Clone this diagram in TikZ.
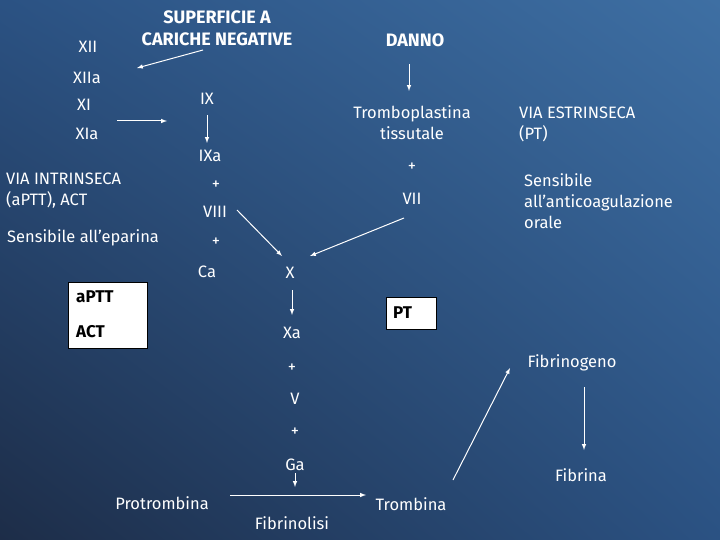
\documentclass[tikz,border=0pt]{standalone}
\usepackage{fontspec}
\setmainfont{Fira Sans}
\usetikzlibrary{shadings}
\definecolor{bgA}{HTML}{3E6FA3}
\definecolor{bgB}{HTML}{1D2D48}
\definecolor{bgC}{HTML}{2B5283}
\begin{document}
\begin{tikzpicture}[x=1pt,y=-1pt,
  lbl/.style={text=white,font=\fontsize{16.5}{21}\selectfont,inner sep=1pt},
  hdr/.style={lbl,font=\fontsize{18}{22}\selectfont\bfseries},
  lft/.style={lbl,anchor=west,align=left},
  arr/.style={draw=white,line width=1pt,-latex},
  wbox/.style={draw=black,fill=white,text=black,anchor=west,font=\fontsize{17}{20}\selectfont\bfseries}]
\shade[upper right=bgA,lower left=bgB,upper left=bgC,lower right=bgC] (0,0) rectangle (720,540);
\useasboundingbox (0,0) rectangle (720,540);
\node[hdr,align=center] (sup) at (217,28) {SUPERFICIE A\\CARICHE NEGATIVE};
\node[hdr] (danno) at (415,40) {DANNO};
\node[lbl] (xii) at (88,47) {XII};
\node[lbl] (xiia) at (87,78) {XIIa};
\node[lbl] (xi) at (84,105) {XI};
\node[lbl] (xia) at (87,134) {XIa};
\node[lbl] (ix) at (207,99) {IX};
\node[lbl] (ixa) at (210,156) {IXa};
\node[lbl] (p1) at (216,185) {+};
\node[lbl] (viii) at (215,212) {VIII};
\node[lbl] (p2) at (216,242) {+};
\node[lbl] (ca) at (207,272) {Ca};
\node[lbl] (x) at (290,273) {X};
\node[lbl] (xa) at (292,333) {Xa};
\node[lbl] (p3) at (292,368) {+};
\node[lbl] (v) at (295,399) {V};
\node[lbl] (p4) at (295,432) {+};
\node[lbl] (ga) at (295,465) {Ga};
\node[lbl] (protr) at (162,503) {Protrombina};
\node[lbl] (tromb) at (411,504) {Trombina};
\node[lbl] (fibrl) at (292,523) {Fibrinolisi};
\node[lbl] (fbg) at (572,363) {Fibrinogeno};
\node[lbl] (fbr) at (581,475) {Fibrina};
\node[lbl,align=center] (tromp) at (412,123) {Tromboplastina\\tissutale};
\node[lbl] (p5) at (412,167) {+};
\node[lbl] (vii) at (412,199) {VII};
\node[lft] (vint) at (5,191) {VIA INTRINSECA\\(aPTT), ACT};
\node[lft] (sep) at (6,238) {Sensibile all'eparina};
\node[lft] (vest) at (518,124) {VIA ESTRINSECA\\(PT)};
\node[lft] (sor) at (523,201) {Sensibile\\all'anticoagulazione\\orale};
\node[wbox,minimum width=79pt,minimum height=66pt] (box1) at (68,315) {};
\node[wbox,draw=none,fill=none,inner sep=0pt] (aptt) at (76,297) {aPTT};
\node[wbox,draw=none,fill=none,inner sep=0pt] (act) at (76,332) {ACT};
\node[wbox,minimum width=50pt,minimum height=32pt,align=left,text width=36pt] (pt) at (386,313) {PT};
\coordinate (c1) at (203,50); \coordinate (c2) at (137,68);
\draw[arr] (c1) -- (c2);
\coordinate (c3) at (117,121); \coordinate (c4) at (167,121);
\draw[arr] (c3) -- (c4);
\coordinate (i1) at (207,115); \coordinate (i2) at (207,143);
\draw[arr] (i1) -- (i2);
\coordinate (d2) at (409,64); \coordinate (d3) at (409,91);
\draw[arr] (d2) -- (d3);
\coordinate (w1) at (237,210); \coordinate (w2) at (282,256);
\draw[arr] (w1) -- (w2);
\coordinate (v1) at (404,218); \coordinate (v2) at (310,256);
\draw[arr] (v1) -- (v2);
\coordinate (x1) at (292,290); \coordinate (x2) at (292,315);
\draw[arr] (x1) -- (x2);
\coordinate (g1) at (295,473); \coordinate (g2) at (295,487);
\draw[arr] (g1) -- (g2);
\coordinate (h1) at (230,495); \coordinate (h2) at (366,495);
\draw[arr] (h1) -- (h2);
\coordinate (t1) at (453,480); \coordinate (t2) at (510,368);
\draw[arr] (t1) -- (t2);
\coordinate (f1) at (584,387); \coordinate (f2) at (584,450);
\draw[arr] (f1) -- (f2);
\end{tikzpicture}
\end{document}
